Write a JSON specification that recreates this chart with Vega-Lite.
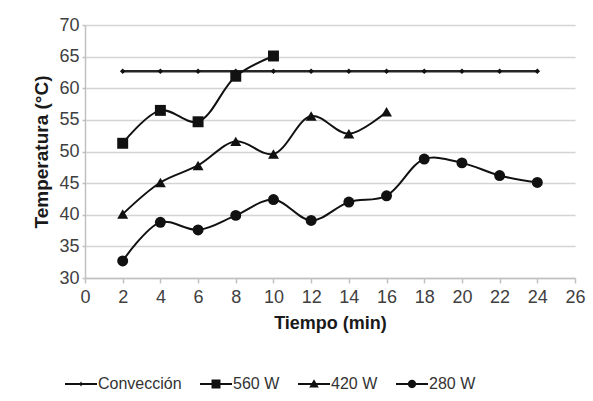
{
  "$schema": "https://vega.github.io/schema/vega-lite/v6.json",
  "autosize": "none",
  "width": 490,
  "height": 253,
  "padding": {"left": 85, "top": 25, "right": 18, "bottom": 123},
  "background": "white",
  "config": {
    "font": "Liberation Sans",
    "view": {"stroke": null},
    "axis": {
      "labelFont": "Liberation Sans",
      "labelFontSize": 18,
      "labelColor": "#404040",
      "titleFont": "Liberation Sans",
      "titleFontSize": 18,
      "titleFontWeight": "bold",
      "titleColor": "#1a1a1a",
      "domainColor": "#c0c0c0",
      "domainWidth": 1.5,
      "tickColor": "#c0c0c0",
      "tickWidth": 1.5,
      "gridColor": "#d4d4d4",
      "gridWidth": 1.5
    }
  },
  "data": {
    "values": [
      {"serie": "Convección", "t": 2, "temp": 62.7},
      {"serie": "Convección", "t": 4, "temp": 62.7},
      {"serie": "Convección", "t": 6, "temp": 62.7},
      {"serie": "Convección", "t": 8, "temp": 62.7},
      {"serie": "Convección", "t": 10, "temp": 62.7},
      {"serie": "Convección", "t": 12, "temp": 62.7},
      {"serie": "Convección", "t": 14, "temp": 62.7},
      {"serie": "Convección", "t": 16, "temp": 62.7},
      {"serie": "Convección", "t": 18, "temp": 62.7},
      {"serie": "Convección", "t": 20, "temp": 62.7},
      {"serie": "Convección", "t": 22, "temp": 62.7},
      {"serie": "Convección", "t": 24, "temp": 62.7},
      {"serie": "560 W", "t": 2, "temp": 51.3},
      {"serie": "560 W", "t": 4, "temp": 56.5},
      {"serie": "560 W", "t": 6, "temp": 54.7},
      {"serie": "560 W", "t": 8, "temp": 61.9},
      {"serie": "560 W", "t": 10, "temp": 65.1},
      {"serie": "420 W", "t": 2, "temp": 40.1},
      {"serie": "420 W", "t": 4, "temp": 45.1},
      {"serie": "420 W", "t": 6, "temp": 47.8},
      {"serie": "420 W", "t": 8, "temp": 51.6},
      {"serie": "420 W", "t": 10, "temp": 49.6},
      {"serie": "420 W", "t": 12, "temp": 55.6},
      {"serie": "420 W", "t": 14, "temp": 52.8},
      {"serie": "420 W", "t": 16, "temp": 56.3},
      {"serie": "280 W", "t": 2, "temp": 32.7},
      {"serie": "280 W", "t": 4, "temp": 38.8},
      {"serie": "280 W", "t": 6, "temp": 37.6},
      {"serie": "280 W", "t": 8, "temp": 39.9},
      {"serie": "280 W", "t": 10, "temp": 42.4},
      {"serie": "280 W", "t": 12, "temp": 39.1},
      {"serie": "280 W", "t": 14, "temp": 42.0},
      {"serie": "280 W", "t": 16, "temp": 43.0},
      {"serie": "280 W", "t": 18, "temp": 48.8},
      {"serie": "280 W", "t": 20, "temp": 48.2},
      {"serie": "280 W", "t": 22, "temp": 46.2},
      {"serie": "280 W", "t": 24, "temp": 45.1}
    ]
  },
  "encoding": {
    "x": {
      "field": "t",
      "type": "quantitative",
      "scale": {"domain": [0, 26], "nice": false, "zero": false},
      "axis": {
        "title": "Tiempo (min)",
        "values": [0, 2, 4, 6, 8, 10, 12, 14, 16, 18, 20, 22, 24, 26],
        "grid": false,
        "tickSize": 5,
        "labelPadding": 5,
        "titlePadding": 8,
        "labelFlush": false
      }
    },
    "y": {
      "field": "temp",
      "type": "quantitative",
      "scale": {"domain": [30, 70], "nice": false, "zero": false},
      "axis": {
        "title": "Temperatura (°C)",
        "values": [30, 35, 40, 45, 50, 55, 60, 65, 70],
        "tickSize": 3,
        "labelPadding": 3,
        "titlePadding": 7,
        "titleFontSize": 19
      }
    }
  },
  "resolve": {"scale": {"shape": "independent"}, "legend": {"shape": "independent"}},
  "layer": [
    {
      "transform": [{"filter": "datum.serie == 'Convección'"}],
      "mark": {"type": "line", "color": "#262626", "strokeWidth": 2.5, "interpolate": "linear"},
      "encoding": {"detail": {"field": "serie"}}
    },
    {
      "transform": [{"filter": "datum.serie != 'Convección'"}],
      "mark": {"type": "line", "color": "#111111", "strokeWidth": 2, "interpolate": "catmull-rom"},
      "encoding": {"detail": {"field": "serie"}}
    },
    {
      "layer": [
        {
          "transform": [{"filter": "datum.serie == 'Convección'"}],
          "mark": {"type": "point", "filled": true, "color": "#111111", "opacity": 1, "size": 30},
          "encoding": {
            "shape": {
              "field": "serie",
              "type": "nominal",
              "scale": {
                "domain": ["Convección", "560 W", "420 W", "280 W"],
                "range": ["diamond", "square", "triangle-up", "circle"]
              },
              "legend": null
            }
          }
        },
        {
          "transform": [{"filter": "datum.serie != 'Convección'"}],
          "mark": {"type": "point", "filled": true, "color": "#111111", "opacity": 1, "size": 120},
          "encoding": {
            "shape": {
              "field": "serie",
              "type": "nominal",
              "scale": {
                "domain": ["Convección", "560 W", "420 W", "280 W"],
                "range": ["diamond", "square", "triangle-up", "circle"]
              },
              "legend": null
            }
          }
        }
      ]
    },
    {
      "mark": {"type": "point", "filled": true, "color": "#111111", "opacity": 0, "size": 1},
      "encoding": {
        "shape": {
          "field": "serie",
          "type": "nominal",
          "scale": {
            "domain": ["Convección", "560 W", "420 W", "280 W"],
            "range": [
              "M-1,-0.07H1V0.07H-1ZM0,-0.16L0.1,0L0,0.16L-0.1,0Z",
              "M-1,-0.07H1V0.07H-1ZM-0.28,-0.28H0.28V0.28H-0.28Z",
              "M-1,-0.07H1V0.07H-1ZM0,-0.3L0.3,0.22H-0.3Z",
              "M-1,-0.07H1V0.07H-1ZM0.26,0A0.26,0.26,0,1,1,-0.26,0A0.26,0.26,0,1,1,0.26,0Z"
            ]
          },
          "legend": {
            "title": null,
            "orient": "none",
            "direction": "horizontal",
            "legendX": -20,
            "legendY": 343,
            "symbolSize": 1024,
            "symbolOpacity": 1,
            "symbolFillColor": "#111111",
            "symbolStrokeColor": "#111111",
            "symbolStrokeWidth": 0,
            "labelFont": "Liberation Sans",
            "labelFontSize": 16,
            "labelColor": "#333333",
            "labelOffset": 1,
            "columnPadding": 18
          }
        }
      }
    }
  ]
}
